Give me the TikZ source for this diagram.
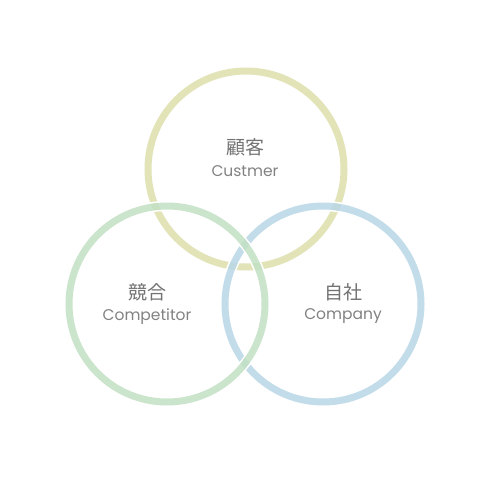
\documentclass[tikz,border=0pt]{standalone}
\usepackage{fontspec}
\setmainfont{Poppins}
\newfontfamily\jpfont{Noto Sans CJK JP}
\definecolor{cyel}{RGB}{226,228,184}
\definecolor{cgrn}{RGB}{194,224,196}
\definecolor{cblu}{RGB}{184,214,231}
\definecolor{ctxt}{RGB}{115,115,115}
\definecolor{ctxe}{RGB}{130,130,130}
\begin{document}
\begin{tikzpicture}[x=1pt,y=-1pt,
  ring/.style={line width=7pt},
  halo/.style={draw=white,line width=1.6pt},
  jp/.style={font=\jpfont\fontsize{19}{19}\selectfont,text=ctxt},
  en/.style={font=\fontsize{15.5}{15.5}\selectfont,text=ctxe}]
\useasboundingbox (0,0) rectangle (500,500);
\fill[white] (0,0) rectangle (500,500);
\coordinate (cy) at (246,169);
\coordinate (cb) at (323,304);
\coordinate (cg) at (167,304);
% yellow (bottom)
\draw[ring,cyel] (cy) circle[radius=98];
% blue
\draw[halo] (cb) circle[radius=93.7];
\draw[halo] (cb) circle[radius=102.3];
\draw[ring,cblu,opacity=0.85] (cb) circle[radius=98];
% green
\draw[halo] (cg) circle[radius=93.7];
\draw[halo] (cg) circle[radius=102.3];
\draw[ring,cgrn,opacity=0.85] (cg) circle[radius=98];
% labels
\node[jp] (ty) at (245,147) {顧客};
\node[en] (ey) at (245,171) {Custmer};
\node[jp] (tg) at (147,292) {競合};
\node[en] (eg) at (147,316.5) {Competitor};
\node[jp] (tb) at (343,292) {自社};
\node[en] (eb) at (343,316.5) {Company};
\end{tikzpicture}
\end{document}
